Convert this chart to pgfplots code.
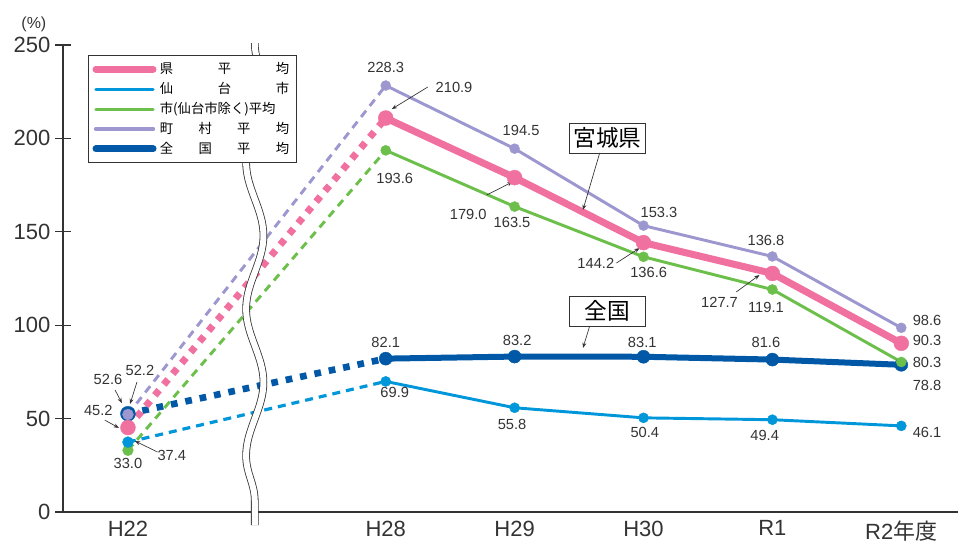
\documentclass[border=0pt]{standalone}
\usepackage{fontspec}
\setmainfont{Liberation Sans}
\newfontfamily\cjk{Noto Sans CJK JP}
\usepackage{pgfplots}
\pgfplotsset{compat=1.18}
\usetikzlibrary{arrows.meta,decorations.pathmorphing}
\definecolor{cpink}{HTML}{F0719F}
\definecolor{cblue}{HTML}{0096DA}
\definecolor{cgreen}{HTML}{6CBF4B}
\definecolor{cpurple}{HTML}{9C97CF}
\definecolor{cnavy}{HTML}{0058A6}
\definecolor{ctext}{HTML}{333333}
\begin{document}
\begin{tikzpicture}[
  lbl/.style={font=\fontsize{11}{13}\selectfont, text=ctext, inner sep=0pt},
  arr/.style={-{Stealth[length=4pt,width=3pt]}, line width=0.5pt, ctext},
  callout/.style={draw=ctext, fill=white, line width=0.7pt, font=\cjk\fontsize{17}{19}\selectfont, text=black, inner sep=1pt, minimum width=57pt, minimum height=22.5pt},
]
\useasboundingbox (-47.25pt,-22.5pt) rectangle (673.5pt,384pt);
\begin{axis}[
  scale only axis, width=671.25pt, height=350.25pt,
  xmin=-0.504, xmax=6.44, ymin=0, ymax=250,
  axis x line*=bottom, axis y line*=left,
  axis line style={ctext, line width=0.8pt},
  xtick={0,2,3,4,5,6},
  xticklabels={H22,H28,H29,H30,R1,R2{\cjk 年度}},
  x tick style={draw=none},
  ytick={0,50,100,150,200,250},
  y tick style={ctext, line width=0.8pt},
  tick align=center, major tick length=12pt,
  /pgf/number format/assume math mode=true,
  tick label style={font=\fontsize{16.5}{18}\selectfont, text=ctext},
  xticklabel style={yshift=3pt, text depth=0pt},
  clip=false,
  legend style={at={(0.028,0.979)}, anchor=north west, draw=ctext, line width=0.7pt, fill=white,
    inner sep=3pt, row sep=0pt, font=\cjk\fontsize{10}{12}\selectfont, nodes={inner sep=2.5pt}},
  legend cell align=left,
  legend image code/.code={\draw[#1, line cap=round] (0pt,0pt) -- (43pt,0pt);},
]
\addlegendimage{cpink, line width=5pt}
\addlegendentry{\makebox[97pt][s]{県\hfill 平\hfill 均}}
\addlegendimage{cblue, line width=2.2pt}
\addlegendentry{\makebox[97pt][s]{仙\hfill 台\hfill 市}}
\addlegendimage{cgreen, line width=2.2pt}
\addlegendentry{\makebox[97pt][s]{市(仙台市除く)平均}}
\addlegendimage{cpurple, line width=3pt}
\addlegendentry{\makebox[97pt][s]{町\hfill 村\hfill 平\hfill 均}}
\addlegendimage{cnavy, line width=5pt}
\addlegendentry{\makebox[97pt][s]{全\hfill 国\hfill 平\hfill 均}}

% 全国平均
\addplot[forget plot, cnavy, line width=5pt, dash pattern=on 5pt off 6pt] coordinates {(0,52.6) (2,82.1)};
\addplot[forget plot, cnavy, line width=4.5pt, mark=*, mark size=4.9pt, mark options={solid, line width=0.3pt}] coordinates {(2,82.1) (3,83.2) (4,83.1) (5,81.6) (6,78.8)};
\addplot[forget plot, only marks, cnavy, mark=*, mark size=5.6pt, mark options={line width=0.3pt}] coordinates {(0,52.6)};
% 市（仙台市除く）平均
\addplot[forget plot, cgreen, line width=2.2pt, dash pattern=on 6pt off 4.5pt] coordinates {(0,33.0) (2,193.6)};
\addplot[forget plot, cgreen, line width=2.2pt, mark=*, mark size=3.8pt, mark options={solid, line width=0.3pt}] coordinates {(2,193.6) (3,163.5) (4,136.6) (5,119.1) (6,80.3)};
\addplot[forget plot, only marks, cgreen, mark=*, mark size=4pt, mark options={line width=0.3pt}] coordinates {(0,33.0)};
% 仙台市
\addplot[forget plot, cblue, line width=2.4pt, dash pattern=on 6pt off 4.5pt] coordinates {(0,37.4) (2,69.9)};
\addplot[forget plot, cblue, line width=2.2pt, mark=*, mark size=3.8pt, mark options={solid, line width=0.3pt}] coordinates {(2,69.9) (3,55.8) (4,50.4) (5,49.4) (6,46.1)};
\addplot[forget plot, only marks, cblue, mark=*, mark size=4.1pt, mark options={line width=0.3pt}] coordinates {(0,37.4)};
% 県平均
\addplot[forget plot, cpink, line width=5.25pt, dash pattern=on 5pt off 5.5pt] coordinates {(0,45.2) (2,210.9)};
\addplot[forget plot, cpink, line width=5.25pt, mark=*, mark size=5.6pt, mark options={solid, line width=0.3pt}] coordinates {(2,210.9) (3,179.0) (4,144.2) (5,127.7) (6,90.3)};
\addplot[forget plot, only marks, cpink, mark=*, mark size=5.6pt, mark options={line width=0.3pt}] coordinates {(0,45.2)};
% 町村平均
\addplot[forget plot, cpurple, line width=2.2pt, dash pattern=on 6pt off 4.5pt] coordinates {(0,52.2) (2,228.3)};
\addplot[forget plot, cpurple, line width=2.2pt, mark=*, mark size=3.75pt, mark options={solid, line width=0.3pt}] coordinates {(2,228.3) (3,194.5) (4,153.3) (5,136.8) (6,98.6)};
\addplot[forget plot, only marks, cpurple, mark=*, mark size=4.1pt, mark options={line width=0.3pt}] coordinates {(0,52.2)};

% axis break
\draw[ctext, line width=0.6pt, double=white, double distance=4.5pt, decorate,
  decoration={snake, segment length=110pt, amplitude=6.5pt}] (axis cs:0.984,251) -- (axis cs:0.984,-7);

% data labels
\node[lbl] at (axis cs:2.0,238.2) {228.3};
\node[lbl] at (axis cs:2.53,227.5) {210.9};
\draw[arr] (axis cs:2.326,227.5) -- (axis cs:2.047,215.7);
\node[lbl] at (axis cs:3.05,204.5) {194.5};
\node[lbl] at (axis cs:2.07,178.8) {193.6};
\node[lbl] at (axis cs:2.64,159.5) {179.0};
\draw[arr] (axis cs:2.783,169.7) -- (axis cs:2.984,176.7);
\node[lbl] at (axis cs:2.98,155.2) {163.5};
\node[lbl] at (axis cs:4.12,160.6) {153.3};
\node[lbl] at (axis cs:3.63,133.3) {144.2};
\draw[arr] (axis cs:3.79,133.3) -- (axis cs:3.97,141.3);
\node[lbl] at (axis cs:4.04,128.5) {136.6};
\node[lbl] at (axis cs:4.95,145.6) {136.8};
\node[lbl] at (axis cs:4.59,112.4) {127.7};
\draw[arr] (axis cs:4.72,117.8) -- (axis cs:4.90,126.9);
\node[lbl] at (axis cs:4.95,109.7) {119.1};
\node[lbl] at (axis cs:6.20,102.8) {98.6};
\node[lbl] at (axis cs:6.20,92.1) {90.3};
\node[lbl] at (axis cs:6.20,80.3) {80.3};
\node[lbl] at (axis cs:6.20,68.0) {78.8};
\node[lbl] at (axis cs:6.20,42.8) {46.1};
\node[lbl] at (axis cs:2.0,90.5) {82.1};
\node[lbl] at (axis cs:3.02,92.1) {83.2};
\node[lbl] at (axis cs:3.99,91.0) {83.1};
\node[lbl] at (axis cs:4.95,91.0) {81.6};
\node[lbl] at (axis cs:2.07,64.2) {69.9};
\node[lbl] at (axis cs:2.98,46.6) {55.8};
\node[lbl] at (axis cs:4.01,42.8) {50.4};
\node[lbl] at (axis cs:4.94,41.2) {49.4};
\node[lbl] at (axis cs:-0.155,71.2) {52.6};
\draw[arr] (axis cs:-0.10,65.3) -- (axis cs:-0.047,58.3);
\node[lbl] at (axis cs:0.093,76) {52.2};
\draw[arr] (axis cs:0.07,69.6) -- (axis cs:0.016,57.8);
\node[lbl] at (axis cs:-0.23,54.6) {45.2};
\draw[arr] (axis cs:-0.18,49.2) -- (axis cs:-0.07,45.0);
\node[lbl] at (axis cs:0.34,30.5) {37.4};
\draw[arr] (axis cs:0.23,32.1) -- (axis cs:0.054,38.0);
\node[lbl] at (axis cs:0,26.2) {33.0};

% callouts
\node[callout] at (axis cs:3.72,200.2) {宮城県};
\draw[arr] (axis cs:3.66,192.2) -- (axis cs:3.53,161.7);
\node[callout] at (axis cs:3.72,107.6) {全国};
\draw[arr] (axis cs:3.58,99.0) -- (axis cs:3.53,87.8);

% unit
\node[font=\fontsize{12}{14}\selectfont, text=ctext] at (axis cs:-0.73,261) {(\%)};
\end{axis}
\end{tikzpicture}
\end{document}
